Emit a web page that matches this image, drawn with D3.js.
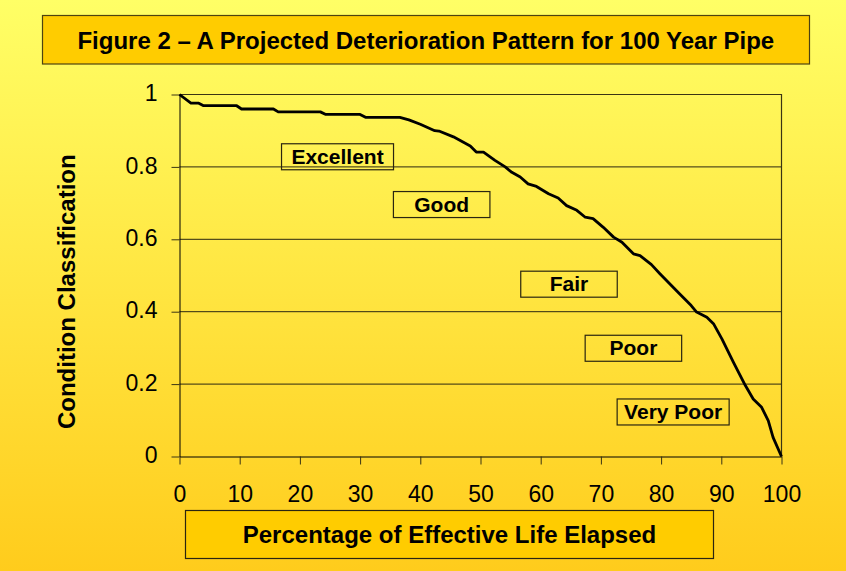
<!DOCTYPE html>
<html>
<head>
<meta charset="utf-8">
<script src="https://cdn.jsdelivr.net/npm/d3@7"></script>
<style>
  html, body { margin: 0; padding: 0; background: #fff; }
  svg { display: block; font-family: "Liberation Sans", Arial, sans-serif; }
</style>
</head>
<body>
<svg id="chart" width="846" height="571"></svg>
<script>
// percentage of effective life elapsed (x) vs condition classification (y)
const lifeElapsed = [0, 1.9, 3.2, 4.0, 9.5, 10.3, 15.6, 16.4, 23.4, 24.3, 30.0, 30.9, 36.6, 38.1,
    40.0, 42.4, 43.1, 45.5, 48.3, 49.3, 50.5, 52.4, 54.1, 55.2, 56.6, 57.9, 59.3, 61.3, 62.9,
    64.3, 66.0, 67.4, 68.7, 70.4, 72.1, 73.5, 75.4, 76.5, 78.4, 79.8, 80.9, 83.1, 85.0, 85.9,
    87.6, 88.7, 90.1, 92.0, 94.0, 95.3, 96.7, 97.8, 98.6, 100];
const condition = [1.0, 0.976, 0.976, 0.969, 0.969, 0.960, 0.960, 0.952, 0.952, 0.945, 0.945, 0.937, 0.937, 0.930,
    0.918, 0.900, 0.899, 0.883, 0.858, 0.841, 0.841, 0.818, 0.800, 0.785, 0.772, 0.753, 0.746, 0.726, 0.714,
    0.693, 0.680, 0.661, 0.657, 0.633, 0.606, 0.592, 0.560, 0.555, 0.530, 0.505, 0.486, 0.449, 0.417, 0.399,
    0.385, 0.367, 0.325, 0.261, 0.196, 0.159, 0.136, 0.099, 0.053, 0];

// condition class labels, placed in data units
const classNames = ["Excellent", "Good", "Fair", "Poor", "Very Poor"];
const classX = [26.25, 43.55, 64.7, 75.4, 82.0];
const classY = [0.828, 0.696, 0.476, 0.299, 0.123];

const xTicks = [0, 10, 20, 30, 40, 50, 60, 70, 80, 90, 100];
const yTicks = [0, 0.2, 0.4, 0.6, 0.8, 1];

const titleText = "Figure 2 \u2013 A Projected Deterioration Pattern for 100 Year Pipe";
const xTitle = "Percentage of Effective Life Elapsed";
const yTitle = "Condition Classification";

const width = 846, height = 571;
const svg = d3.select("#chart");

/***
 * Background gradient
 */
const defs = svg.append("defs");
const grad = defs.append("linearGradient")
    .attr("id", "bg").attr("x1", 0).attr("y1", 0).attr("x2", 0).attr("y2", 1);
grad.append("stop").attr("offset", "0%").attr("stop-color", "#FFFF66");
grad.append("stop").attr("offset", "100%").attr("stop-color", "#FFCC1C");
svg.append("rect").attr("width", width).attr("height", height).attr("fill", "url(#bg)");

/***
 * Scales
 */
const x = d3.scaleLinear().domain([0, 100]).range([179.5, 781.5]);
const y = d3.scaleLinear().domain([0, 1]).range([456.5, 94.5]);

// gridlines
svg.append("g")
    .selectAll("line")
    .data(yTicks.filter(d => d > 0))
    .join("line")
    .attr("x1", x(0)).attr("x2", x(100))
    .attr("y1", d => y(d)).attr("y2", d => y(d))
    .attr("stroke", "#2b2710").attr("stroke-width", 1);

// plot border (top / right)
svg.append("path")
    .attr("d", `M${x(0)},${y(1)}H${x(100)}V${y(0)}`)
    .attr("fill", "none").attr("stroke", "#3a3414").attr("stroke-width", 1.2);

/***
 * Axes
 */
const xAxis = svg.append("g")
    .attr("transform", `translate(0,${y(0)})`)
    .call(d3.axisBottom(x).tickValues(xTicks).tickSize(8).tickSizeOuter(0));
xAxis.select(".domain").attr("stroke", "#000");
xAxis.selectAll(".tick line").attr("stroke", "#3a3414");
xAxis.selectAll(".tick text")
    .attr("y", 45.5).attr("dy", null)
    .attr("font-size", 23).attr("fill", "#000")
    .attr("font-family", "Liberation Sans, Arial, sans-serif");

const yAxis = svg.append("g")
    .attr("transform", `translate(${x(0)},0)`)
    .call(d3.axisLeft(y).tickValues(yTicks).tickFormat(d3.format("~g")).tickSize(8).tickPadding(14).tickSizeOuter(0));
yAxis.select(".domain").attr("stroke", "#000");
yAxis.selectAll(".tick line").attr("stroke", "#3a3414");
yAxis.selectAll(".tick text")
    .attr("dy", "0.27em")
    .attr("font-size", 23).attr("fill", "#000")
    .attr("font-family", "Liberation Sans, Arial, sans-serif");

/***
 * Deterioration curve
 */
const points = lifeElapsed.map((d, i) => [d, condition[i]]);
svg.append("path")
    .datum(points)
    .attr("fill", "none")
    .attr("stroke", "#000")
    .attr("stroke-width", 2.8)
    .attr("stroke-linejoin", "round")
    .attr("d", d3.line().x(d => x(d[0])).y(d => y(d[1])));

/***
 * Condition class boxes
 */
const classes = classNames.map((name, i) => ({ name, x: classX[i], y: classY[i] }));
const boxG = svg.append("g").selectAll("g").data(classes).join("g")
    .attr("transform", d => `translate(${x(d.x)},${y(d.y)})`);
boxG.append("text")
    .attr("text-anchor", "middle")
    .attr("y", 7)
    .attr("font-size", 21)
    .attr("font-weight", "bold")
    .text(d => d.name);
boxG.each(function() {
    const g = d3.select(this);
    const tw = g.select("text").node().getComputedTextLength();
    const bw = tw > 80 ? 112 : 96.5;
    g.insert("rect", "text")
        .attr("x", -bw / 2).attr("y", -13)
        .attr("width", bw).attr("height", 26)
        .attr("fill", "none")
        .attr("stroke", "#2a2510").attr("stroke-width", 1.2);
});

/***
 * Title and axis title boxes
 */
svg.append("rect")
    .attr("x", 42.5).attr("y", 15.5).attr("width", 767).attr("height", 48.5)
    .attr("fill", "#FFCC00").attr("stroke", "#4d4210").attr("stroke-width", 1.2);
svg.append("text")
    .attr("x", 425.8).attr("y", 49)
    .attr("text-anchor", "middle")
    .attr("font-size", 24).attr("font-weight", "bold")
    .text(titleText);

svg.append("rect")
    .attr("x", 185.5).attr("y", 510.5).attr("width", 528).attr("height", 48)
    .attr("fill", "#FFCC00").attr("stroke", "#2a2510").attr("stroke-width", 1.2);
svg.append("text")
    .attr("x", 449.5).attr("y", 542.5)
    .attr("text-anchor", "middle")
    .attr("font-size", 24).attr("font-weight", "bold")
    .text(xTitle);

svg.append("text")
    .attr("transform", "translate(75,291.7) rotate(-90)")
    .attr("text-anchor", "middle")
    .attr("font-size", 24).attr("font-weight", "bold")
    .text(yTitle);
</script>
</body>
</html>
